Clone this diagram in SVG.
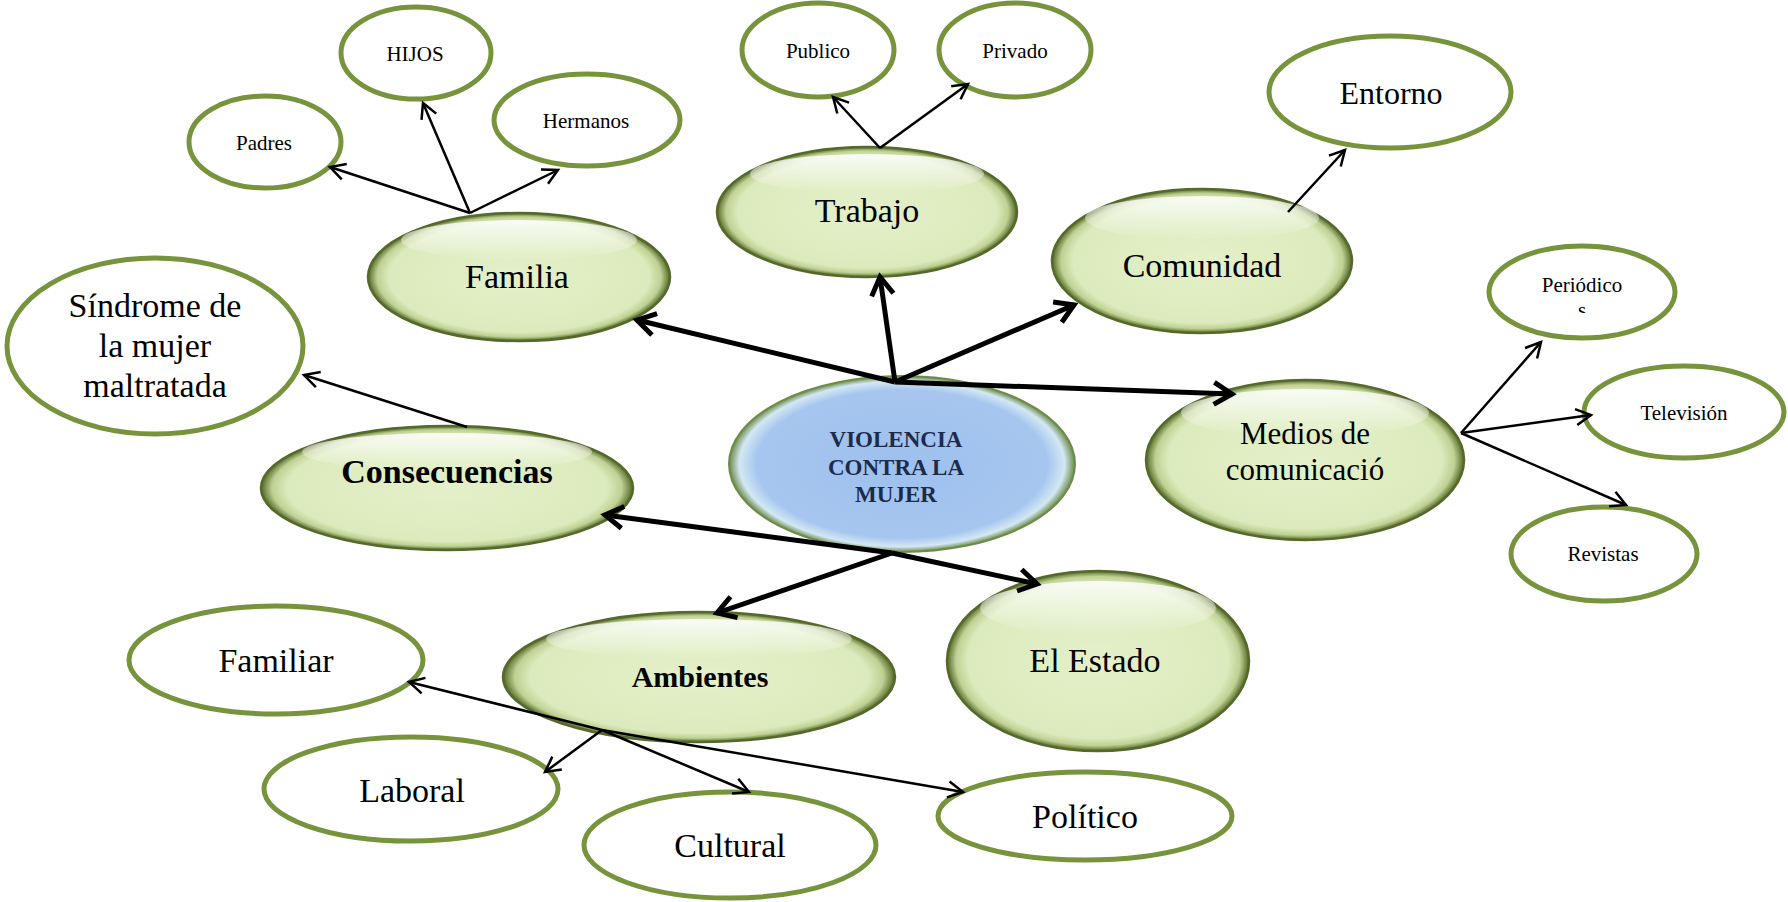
<svg xmlns="http://www.w3.org/2000/svg" width="1788" height="902" viewBox="0 0 1788 902">
<defs>
<style>
.o{fill:#ffffff;stroke:#77933c;stroke-width:5}
.g{fill:url(#gG);stroke:#55692a;stroke-width:2.5}
.b{fill:url(#gB);stroke:#6e8b46;stroke-width:2}
.hl{fill:url(#gHL)}
.t{font-family:"Liberation Serif","Times New Roman",serif;fill:#000;text-anchor:middle}
.s{font-size:21px}
.l{font-size:34px}
.bd{font-weight:bold}
.c{font-family:"Liberation Serif","Times New Roman",serif;font-weight:bold;font-size:23px;fill:#1c2b4a;text-anchor:middle}
.thin{stroke:#000;stroke-width:2.5;fill:none;marker-end:url(#a1)}
.thick{stroke:#000;stroke-width:5;fill:none;marker-end:url(#a2)}
</style>
<radialGradient id="gG" cx="50%" cy="50%" r="50%">
<stop offset="0%" stop-color="#e4f0c9"/>
<stop offset="86%" stop-color="#dcebbd"/>
<stop offset="94%" stop-color="#bfd193"/>
<stop offset="100%" stop-color="#536827"/>
</radialGradient>
<radialGradient id="gB" cx="50%" cy="50%" r="50%">
<stop offset="0%" stop-color="#9ec0ee"/>
<stop offset="84%" stop-color="#a6c6ef"/>
<stop offset="94%" stop-color="#d3e8f3"/>
<stop offset="100%" stop-color="#6b8a4a"/>
</radialGradient>
<linearGradient id="gHL" x1="0" y1="0" x2="0" y2="1">
<stop offset="0%" stop-color="#ffffff" stop-opacity="0.85"/>
<stop offset="100%" stop-color="#ffffff" stop-opacity="0"/>
</linearGradient>
<marker id="a1" viewBox="-18 -10 20 20" refX="0" refY="0" markerWidth="20" markerHeight="20" markerUnits="userSpaceOnUse" orient="auto" overflow="visible">
<path d="M-15,-8 L0,0 L-15,8" fill="none" stroke="#000" stroke-width="2.5"/>
</marker>
<marker id="a2" viewBox="-22 -13 24 26" refX="0" refY="0" markerWidth="24" markerHeight="26" markerUnits="userSpaceOnUse" orient="auto" overflow="visible">
<path d="M-18,-11 L0,0 L-18,11" fill="none" stroke="#000" stroke-width="5"/>
</marker>
<clipPath id="perClip"><rect x="1480" y="240" width="200" height="73"/></clipPath>
</defs>

<g id="nodes">
<g id="n-hijos"><ellipse class="o" cx="416" cy="53" rx="75" ry="46"/><text class="t s" x="415" y="61">HIJOS</text></g>
<g id="n-padres"><ellipse class="o" cx="265" cy="142" rx="76" ry="46"/><text class="t s" x="264" y="150">Padres</text></g>
<g id="n-hermanos"><ellipse class="o" cx="587" cy="120" rx="93" ry="46"/><text class="t s" x="586" y="128">Hermanos</text></g>
<g id="n-publico"><ellipse class="o" cx="818" cy="50" rx="76" ry="47"/><text class="t s" x="818" y="58">Publico</text></g>
<g id="n-privado"><ellipse class="o" cx="1015" cy="50" rx="76" ry="47"/><text class="t s" x="1015" y="58">Privado</text></g>
<g id="n-entorno"><ellipse class="o" cx="1390" cy="92" rx="121" ry="56"/><text class="t" style="font-size:32px" x="1391" y="104">Entorno</text></g>
<g id="n-sindrome"><ellipse class="o" cx="155" cy="346" rx="148" ry="88"/>
<text class="t l" x="155" y="317">Síndrome de</text><text class="t l" x="155" y="357">la mujer</text><text class="t l" x="155" y="397">maltratada</text></g>
<g id="n-periodicos"><ellipse class="o" cx="1582" cy="292" rx="93" ry="46"/><text class="t s" x="1582" y="292">Periódico</text><text class="t s" x="1582" y="317" clip-path="url(#perClip)">s</text></g>
<g id="n-television"><ellipse class="o" cx="1684" cy="412" rx="100" ry="46"/><text class="t s" x="1684" y="420">Televisión</text></g>
<g id="n-revistas"><ellipse class="o" cx="1604" cy="554" rx="93" ry="47"/><text class="t s" x="1603" y="561">Revistas</text></g>
<g id="n-familiar"><ellipse class="o" cx="276" cy="660" rx="147" ry="54"/><text class="t l" x="276" y="672">Familiar</text></g>
<g id="n-laboral"><ellipse class="o" cx="411" cy="789" rx="147" ry="52"/><text class="t l" x="412" y="802">Laboral</text></g>
<g id="n-cultural"><ellipse class="o" cx="730" cy="845" rx="146" ry="53"/><text class="t l" x="730" y="857">Cultural</text></g>
<g id="n-politico"><ellipse class="o" cx="1085" cy="816" rx="147" ry="44"/><text class="t l" x="1085" y="828">Político</text></g>

<g id="n-familia"><ellipse class="g" cx="519" cy="277" rx="151" ry="64"/><ellipse class="hl" cx="519" cy="240" rx="118" ry="20"/><text class="t l" x="517" y="288">Familia</text></g>
<g id="n-trabajo"><ellipse class="g" cx="867" cy="212" rx="150" ry="65"/><ellipse class="hl" cx="867" cy="174" rx="117" ry="20"/><text class="t l" x="867" y="222">Trabajo</text></g>
<g id="n-comunidad"><ellipse class="g" cx="1202" cy="261" rx="150" ry="72"/><ellipse class="hl" cx="1202" cy="218" rx="117" ry="22"/><text class="t l" x="1202" y="277">Comunidad</text></g>
<g id="n-consecuencias"><ellipse class="g" cx="447" cy="488" rx="186" ry="62"/><ellipse class="hl" cx="447" cy="452" rx="145" ry="19"/><text class="t l bd" x="447" y="483">Consecuencias</text></g>
<g id="n-medios"><ellipse class="g" cx="1305" cy="460" rx="159" ry="80"/><ellipse class="hl" cx="1305" cy="413" rx="124" ry="24"/>
<text class="t" style="font-size:31px" x="1305" y="444">Medios de</text><text class="t" style="font-size:31px" x="1305" y="480">comunicació</text></g>
<g id="n-ambientes"><ellipse class="g" cx="699" cy="677" rx="196" ry="65"/><ellipse class="hl" cx="699" cy="639" rx="153" ry="20"/><text class="t bd" style="font-size:30px" x="700" y="687">Ambientes</text></g>
<g id="n-estado"><ellipse class="g" cx="1098" cy="661" rx="151" ry="90"/><ellipse class="hl" cx="1098" cy="608" rx="118" ry="27"/><text class="t l" x="1095" y="672">El Estado</text></g>
<g id="n-violencia"><ellipse class="b" cx="902" cy="464" rx="173" ry="88"/>
<text class="c" x="896" y="447">VIOLENCIA</text><text class="c" x="896" y="475">CONTRA LA</text><text class="c" x="896" y="502">MUJER</text></g>
</g>

<g id="connectors">
<line class="thin" x1="470" y1="213" x2="330" y2="167"/>
<line class="thin" x1="470" y1="213" x2="423" y2="103"/>
<line class="thin" x1="470" y1="213" x2="558" y2="170"/>
<line class="thin" x1="880" y1="148" x2="833" y2="97"/>
<line class="thin" x1="880" y1="148" x2="968" y2="84"/>
<line class="thin" x1="1288" y1="212" x2="1345" y2="150"/>
<line class="thin" x1="467" y1="427" x2="304" y2="375"/>
<line class="thin" x1="1461" y1="433" x2="1541" y2="342"/>
<line class="thin" x1="1461" y1="433" x2="1591" y2="415"/>
<line class="thin" x1="1461" y1="433" x2="1626" y2="505"/>
<line class="thin" x1="602" y1="730" x2="409" y2="682"/>
<line class="thin" x1="602" y1="730" x2="545" y2="772"/>
<line class="thin" x1="602" y1="730" x2="749" y2="792"/>
<line class="thin" x1="602" y1="730" x2="963" y2="792"/>
<line class="thick" x1="895" y1="382" x2="637" y2="320"/>
<line class="thick" x1="895" y1="382" x2="880" y2="277"/>
<line class="thick" x1="895" y1="382" x2="1074" y2="305"/>
<line class="thick" x1="895" y1="382" x2="1232" y2="394"/>
<line class="thick" x1="892" y1="553" x2="605" y2="515"/>
<line class="thick" x1="892" y1="553" x2="717" y2="613"/>
<line class="thick" x1="892" y1="553" x2="1037" y2="584"/>
</g>
</svg>
